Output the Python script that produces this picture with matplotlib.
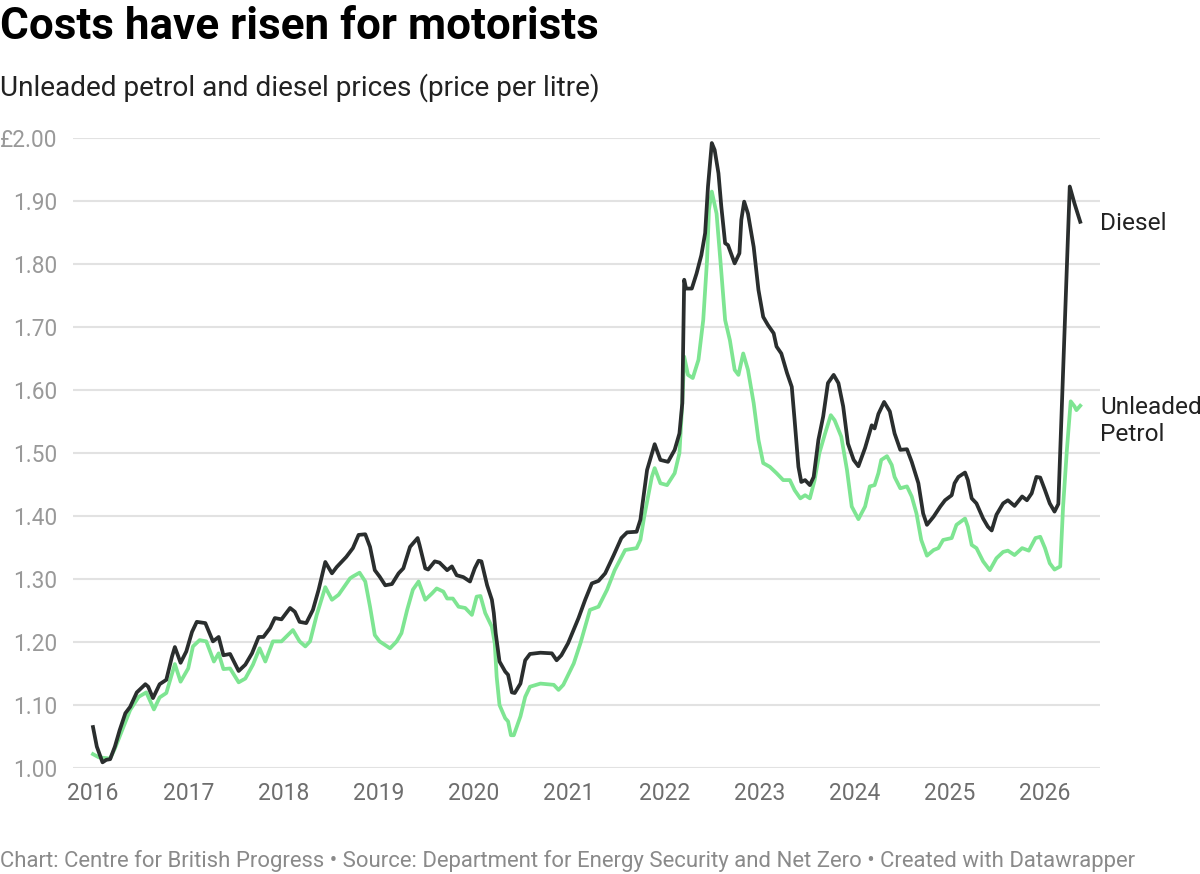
import matplotlib
matplotlib.use("Agg")
import matplotlib.pyplot as plt

plt.rcParams['font.family'] = ['Roboto', 'DejaVu Sans']

title = "Costs have risen for motorists"
subtitle = "Unleaded petrol and diesel prices (price per litre)"
footer = "Chart: Centre for British Progress \u2022 Source: Department for Energy Security and Net Zero \u2022 Created with Datawrapper"

diesel_t = [2016.00, 2016.04, 2016.10, 2016.14, 2016.18, 2016.23, 2016.28, 2016.34, 2016.39, 2016.46,
            2016.55, 2016.58, 2016.63, 2016.70, 2016.77, 2016.83, 2016.86, 2016.92, 2016.98, 2017.04,
            2017.09, 2017.18, 2017.26, 2017.32, 2017.37, 2017.44, 2017.53, 2017.60, 2017.67, 2017.74,
            2017.79, 2017.86, 2017.91, 2017.98, 2018.07, 2018.12, 2018.17, 2018.24, 2018.31, 2018.37,
            2018.44, 2018.51, 2018.56, 2018.66, 2018.73, 2018.79, 2018.86, 2018.91, 2018.96, 2019.01,
            2019.07, 2019.14, 2019.21, 2019.26, 2019.33, 2019.37, 2019.41, 2019.43, 2019.49, 2019.52,
            2019.59, 2019.64, 2019.72, 2019.77, 2019.82, 2019.89, 2019.96, 2020.01, 2020.05, 2020.08,
            2020.14, 2020.19, 2020.21, 2020.23, 2020.27, 2020.33, 2020.36, 2020.40, 2020.43, 2020.49,
            2020.54, 2020.59, 2020.70, 2020.82, 2020.87, 2020.92, 2020.99, 2021.10, 2021.17, 2021.24,
            2021.31, 2021.38, 2021.47, 2021.55, 2021.61, 2021.71, 2021.75, 2021.82, 2021.90, 2021.96,
            2022.04, 2022.11, 2022.16, 2022.19, 2022.21, 2022.23, 2022.29, 2022.34, 2022.39, 2022.43,
            2022.46, 2022.50, 2022.53, 2022.57, 2022.60, 2022.64, 2022.67, 2022.74, 2022.79, 2022.81,
            2022.84, 2022.88, 2022.94, 2022.99, 2023.04, 2023.09, 2023.15, 2023.18, 2023.23, 2023.29,
            2023.34, 2023.37, 2023.41, 2023.44, 2023.48, 2023.53, 2023.57, 2023.62, 2023.67, 2023.72,
            2023.78, 2023.83, 2023.88, 2023.93, 2023.99, 2024.04, 2024.11, 2024.18, 2024.21, 2024.25,
            2024.31, 2024.37, 2024.42, 2024.48, 2024.55, 2024.60, 2024.67, 2024.72, 2024.76, 2024.83,
            2024.90, 2024.95, 2025.02, 2025.05, 2025.09, 2025.16, 2025.19, 2025.23, 2025.28, 2025.35,
            2025.40, 2025.44, 2025.49, 2025.56, 2025.61, 2025.68, 2025.76, 2025.81, 2025.86, 2025.91,
            2025.95, 2026.00, 2026.05, 2026.10, 2026.14, 2026.26, 2026.31, 2026.37]
diesel_v = [1.065, 1.034, 1.009, 1.013, 1.014, 1.034, 1.060, 1.087, 1.097, 1.120,
            1.133, 1.129, 1.111, 1.133, 1.140, 1.177, 1.192, 1.167, 1.185, 1.216,
            1.232, 1.230, 1.201, 1.208, 1.179, 1.181, 1.154, 1.164, 1.182, 1.208,
            1.208, 1.222, 1.238, 1.236, 1.254, 1.248, 1.232, 1.230, 1.251, 1.283,
            1.327, 1.309, 1.319, 1.335, 1.349, 1.370, 1.371, 1.351, 1.314, 1.304,
            1.290, 1.292, 1.309, 1.317, 1.351, 1.358, 1.365, 1.354, 1.317, 1.315,
            1.328, 1.326, 1.314, 1.320, 1.306, 1.303, 1.296, 1.317, 1.329, 1.328,
            1.290, 1.267, 1.246, 1.214, 1.169, 1.153, 1.148, 1.120, 1.119, 1.134,
            1.171, 1.181, 1.183, 1.182, 1.171, 1.179, 1.198, 1.238, 1.267, 1.293,
            1.297, 1.309, 1.338, 1.365, 1.374, 1.375, 1.394, 1.473, 1.514, 1.489,
            1.486, 1.505, 1.531, 1.579, 1.775, 1.761, 1.761, 1.785, 1.814, 1.849,
            1.923, 1.992, 1.981, 1.944, 1.891, 1.833, 1.830, 1.801, 1.817, 1.870,
            1.899, 1.880, 1.827, 1.759, 1.716, 1.703, 1.690, 1.669, 1.658, 1.627,
            1.605, 1.552, 1.478, 1.454, 1.457, 1.449, 1.462, 1.521, 1.558, 1.611,
            1.624, 1.611, 1.574, 1.515, 1.489, 1.479, 1.508, 1.544, 1.539, 1.562,
            1.581, 1.566, 1.531, 1.505, 1.506, 1.486, 1.452, 1.404, 1.386, 1.399,
            1.415, 1.425, 1.433, 1.452, 1.462, 1.469, 1.457, 1.428, 1.420, 1.396,
            1.383, 1.377, 1.402, 1.420, 1.425, 1.416, 1.431, 1.425, 1.436, 1.462,
            1.461, 1.441, 1.420, 1.407, 1.419, 1.923, 1.896, 1.867]

petrol_t = [2016.00, 2016.06, 2016.18, 2016.23, 2016.39, 2016.48, 2016.56, 2016.64, 2016.70, 2016.77,
            2016.86, 2016.92, 2017.00, 2017.05, 2017.12, 2017.19, 2017.27, 2017.32, 2017.37, 2017.44,
            2017.53, 2017.60, 2017.68, 2017.75, 2017.81, 2017.89, 2017.98, 2018.10, 2018.17, 2018.23,
            2018.28, 2018.35, 2018.44, 2018.51, 2018.58, 2018.70, 2018.73, 2018.80, 2018.86, 2018.91,
            2018.96, 2019.01, 2019.12, 2019.19, 2019.24, 2019.30, 2019.36, 2019.42, 2019.49, 2019.56,
            2019.61, 2019.68, 2019.72, 2019.78, 2019.84, 2019.91, 2019.98, 2020.03, 2020.07, 2020.12,
            2020.19, 2020.22, 2020.24, 2020.27, 2020.33, 2020.36, 2020.39, 2020.42, 2020.49, 2020.54,
            2020.59, 2020.70, 2020.84, 2020.89, 2020.94, 2021.05, 2021.12, 2021.22, 2021.31, 2021.40,
            2021.48, 2021.59, 2021.71, 2021.75, 2021.79, 2021.87, 2021.90, 2021.96, 2022.03, 2022.11,
            2022.16, 2022.19, 2022.21, 2022.25, 2022.30, 2022.36, 2022.41, 2022.45, 2022.47, 2022.50,
            2022.55, 2022.59, 2022.64, 2022.69, 2022.74, 2022.78, 2022.83, 2022.88, 2022.94, 2022.99,
            2023.04, 2023.11, 2023.18, 2023.25, 2023.32, 2023.37, 2023.43, 2023.48, 2023.53, 2023.58,
            2023.63, 2023.69, 2023.75, 2023.79, 2023.86, 2023.92, 2023.97, 2024.04, 2024.11, 2024.16,
            2024.21, 2024.25, 2024.28, 2024.34, 2024.39, 2024.42, 2024.48, 2024.55, 2024.60, 2024.65,
            2024.70, 2024.76, 2024.83, 2024.88, 2024.93, 2025.02, 2025.07, 2025.16, 2025.19, 2025.23,
            2025.28, 2025.35, 2025.42, 2025.49, 2025.56, 2025.61, 2025.68, 2025.76, 2025.83, 2025.90,
            2025.95, 2026.00, 2026.05, 2026.10, 2026.16, 2026.19, 2026.23, 2026.27, 2026.31, 2026.33,
            2026.37]
petrol_v = [1.022, 1.017, 1.015, 1.031, 1.092, 1.113, 1.120, 1.093, 1.112, 1.119,
            1.165, 1.137, 1.158, 1.193, 1.203, 1.201, 1.169, 1.182, 1.157, 1.158,
            1.136, 1.142, 1.164, 1.190, 1.169, 1.201, 1.201, 1.219, 1.201, 1.193,
            1.201, 1.243, 1.287, 1.267, 1.275, 1.301, 1.304, 1.310, 1.296, 1.256,
            1.211, 1.201, 1.190, 1.201, 1.214, 1.251, 1.283, 1.296, 1.267, 1.277,
            1.285, 1.280, 1.269, 1.269, 1.256, 1.254, 1.243, 1.272, 1.273, 1.246,
            1.224, 1.198, 1.145, 1.100, 1.079, 1.074, 1.052, 1.052, 1.082, 1.113,
            1.129, 1.134, 1.132, 1.124, 1.132, 1.166, 1.198, 1.251, 1.256, 1.283,
            1.314, 1.346, 1.349, 1.362, 1.399, 1.462, 1.476, 1.452, 1.449, 1.468,
            1.500, 1.579, 1.653, 1.624, 1.619, 1.648, 1.711, 1.806, 1.886, 1.915,
            1.880, 1.806, 1.711, 1.679, 1.632, 1.624, 1.658, 1.632, 1.579, 1.521,
            1.484, 1.478, 1.468, 1.457, 1.457, 1.441, 1.428, 1.433, 1.428, 1.457,
            1.500, 1.531, 1.560, 1.552, 1.526, 1.473, 1.415, 1.395, 1.415, 1.447,
            1.449, 1.468, 1.489, 1.495, 1.481, 1.462, 1.444, 1.447, 1.431, 1.404,
            1.362, 1.337, 1.346, 1.349, 1.362, 1.365, 1.386, 1.396, 1.383, 1.354,
            1.349, 1.328, 1.314, 1.333, 1.343, 1.345, 1.338, 1.349, 1.345, 1.365,
            1.367, 1.349, 1.325, 1.315, 1.320, 1.415, 1.505, 1.582, 1.574, 1.568,
            1.575]

year_ticks = list(range(2016, 2027))
y_ticks = [1.00, 1.10, 1.20, 1.30, 1.40, 1.50, 1.60, 1.70, 1.80, 1.90, 2.00]
y_labels = ["1.00", "1.10", "1.20", "1.30", "1.40", "1.50", "1.60", "1.70", "1.80", "1.90", "\u00a32.00"]

diesel_color = "#2a2e2e"
petrol_color = "#7ee592"

fig = plt.figure(figsize=(12, 8.74), dpi=100)
ax = fig.add_axes([73/1200, 1 - 768/874, (1100-73)/1200, (768-138)/874])

ax.plot(petrol_t, petrol_v, color=petrol_color, lw=2.7, solid_joinstyle='round', clip_on=False, zorder=3)
ax.plot(diesel_t, diesel_v, color=diesel_color, lw=2.7, solid_joinstyle='round', clip_on=False, zorder=4)

ax.set_xlim(2016 - 20/95.2, 2016 + (1100-93)/95.2)
ax.set_ylim(1.0, 2.0)

ax.set_yticks(y_ticks)
ax.set_yticklabels(y_labels)
ax.set_xticks(year_ticks)
ax.set_xticklabels([str(y) for y in year_ticks])
ax.tick_params(axis='y', length=0, pad=11, labelsize=16.3, labelcolor='#999999')
ax.tick_params(axis='x', length=0, pad=10, labelsize=16.5, labelcolor='#6e6e6e')
ax.grid(axis='y', color='#e2e2e2', lw=1.5)
ax.set_axisbelow(True)
for s in ax.spines.values():
    s.set_visible(False)

ax.annotate("Diesel", xy=(1.0, diesel_v[-1]), xycoords=('axes fraction', 'data'),
            xytext=(0, -1.2), textcoords='offset points',
            fontsize=17.6, color='#222222', ha='left', va='center')
ax.annotate("Unleaded", xy=(1.0, petrol_v[-1]), xycoords=('axes fraction', 'data'),
            xytext=(0, -1.2), textcoords='offset points',
            fontsize=17.6, color='#222222', ha='left', va='center')
ax.annotate("Petrol", xy=(1.0, petrol_v[-1]), xycoords=('axes fraction', 'data'),
            xytext=(0, -20.7), textcoords='offset points',
            fontsize=17.6, color='#222222', ha='left', va='center')

fig.text(0.0, 1 - 27/874, title, fontsize=31.7, fontweight='bold', color='#000000', ha='left', va='center')
fig.text(0.0, 1 - 88/874, subtitle, fontsize=20.2, color='#222222', ha='left', va='center')
fig.text(0.0, 1 - 861/874, footer, fontsize=15.9, color='#8a8a8a', ha='left', va='center')

fig.savefig("out.png", dpi=100)
